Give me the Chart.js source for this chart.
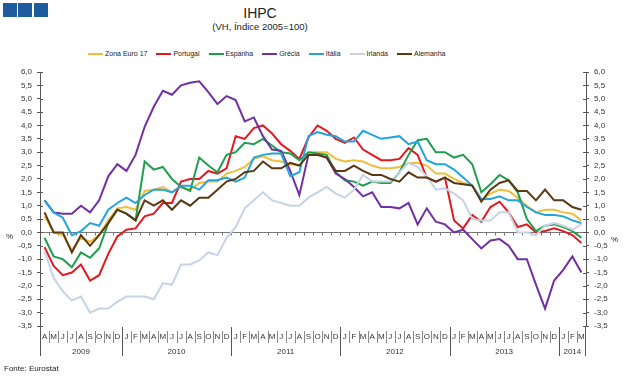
<!DOCTYPE html>
<html><head><meta charset="utf-8">
<script src="https://cdn.jsdelivr.net/npm/chart.js@4.4.0/dist/chart.umd.min.js"></script>
<style>
html,body{margin:0;padding:0;background:#fff;}
#wrap{position:relative;width:624px;height:379px;overflow:hidden;font-family:"Liberation Sans",Arial,sans-serif;color:#222;}
canvas{position:absolute;left:0;top:0;}
.logo{position:absolute;top:3px;width:14px;height:14px;background:#1F5C9E;}
#title{position:absolute;left:160px;width:200px;top:5px;text-align:center;font-size:14px;line-height:16px;}
#sub{position:absolute;left:160px;width:200px;top:21px;text-align:center;font-size:9.5px;line-height:12px;}
#legend{position:absolute;left:88px;top:49px;display:flex;font-size:7px;line-height:10px;white-space:nowrap;}
.li{display:flex;align-items:center;margin-right:9px;}
.sw{width:15px;height:2.5px;margin-right:2px;}
.pct{position:absolute;font-size:8px;}
#src{position:absolute;left:4px;top:364px;font-size:8px;}
</style></head>
<body><div id="wrap">
<div class="logo" style="left:3px"></div><div class="logo" style="left:18px"></div><div class="logo" style="left:34px"></div>
<div id="title">IHPC</div>
<div id="sub">(VH, Índice 2005=100)</div>
<div id="legend"></div>
<canvas id="c" width="624" height="379"></canvas>
<div class="pct" style="left:6px;top:232px">%</div>
<div class="pct" style="left:611px;top:235px">%</div>
<div id="src">Fonte: Eurostat</div>
</div>
<script>
const months = ['A','M','J','J','A','S','O','N','D',
 'J','F','M','A','M','J','J','A','S','O','N','D',
 'J','F','M','A','M','J','J','A','S','O','N','D',
 'J','F','M','A','M','J','J','A','S','O','N','D',
 'J','F','M','A','M','J','J','A','S','O','N','D',
 'J','F','M'];
const years = ['2009','2010','2011','2012','2013','2014'];
const monthsPerYear = [9,12,12,12,12,3];
const seriesNames = ['Zona Euro 17','Portugal','Espanha','Grécia','Itália','Irlanda','Alemanha'];

const zonaEuro = [0.6,0.0,-0.1,-0.65,-0.2,-0.35,-0.1,0.45,0.9,0.95,0.85,1.55,1.6,1.7,1.5,1.7,1.6,1.85,1.9,1.9,2.2,
 2.3,2.45,2.75,2.85,2.7,2.65,2.55,2.5,3.0,3.0,3.0,2.75,2.65,2.7,2.65,2.5,2.4,2.4,2.45,2.6,2.6,2.5,2.2,2.2,
 2.0,1.85,1.75,1.2,1.45,1.6,1.55,1.3,1.0,0.75,0.85,0.85,0.75,0.7,0.45];
const portugal = [-0.55,-1.25,-1.6,-1.5,-1.2,-1.8,-1.6,-0.8,-0.15,0.1,0.15,0.6,0.7,1.1,1.1,1.9,2.0,2.0,2.3,2.2,2.4,
 3.6,3.5,3.9,4.0,3.7,3.3,3.05,2.75,3.55,4.0,3.8,3.5,3.35,3.55,3.1,2.9,2.7,2.7,2.75,3.15,2.9,2.05,1.9,2.05,
 0.45,0.15,0.65,0.4,0.95,1.15,0.75,0.2,0.3,0.0,0.05,0.15,0.05,-0.1,-0.4];
const espanha = [-0.2,-0.9,-1.0,-1.3,-0.75,-0.95,-0.6,0.35,0.85,0.7,0.45,2.65,2.35,2.45,2.0,1.7,1.55,2.8,2.5,2.25,2.9,
 3.0,3.35,3.3,3.5,3.25,3.0,2.95,2.7,3.0,2.95,2.9,2.25,1.95,1.9,1.75,1.9,1.85,1.85,2.25,2.9,3.45,3.5,3.0,3.0,
 2.8,2.9,2.55,1.5,1.8,2.15,1.95,1.5,0.5,0.05,0.25,0.3,0.2,0.05,-0.2];
const grecia = [1.2,0.75,0.7,0.7,1.0,0.75,1.2,2.1,2.55,2.3,2.9,3.95,4.7,5.3,5.15,5.5,5.6,5.65,5.25,4.8,5.1,
 4.95,4.15,4.3,3.6,3.1,3.05,2.3,1.4,2.9,2.9,2.8,2.2,2.0,1.7,1.35,1.5,0.95,0.95,0.9,1.1,0.3,0.9,0.4,0.3,
 0.0,0.1,-0.25,-0.6,-0.3,-0.25,-0.5,-1.0,-1.0,-1.95,-2.85,-1.8,-1.4,-0.9,-1.5];
const italia = [1.2,0.75,0.55,-0.1,0.05,0.35,0.25,0.85,1.1,1.3,1.1,1.4,1.6,1.6,1.5,1.75,1.75,1.6,1.95,1.95,2.05,
 1.9,2.05,2.8,2.9,2.95,2.95,2.1,2.25,3.6,3.75,3.65,3.6,3.4,3.4,3.8,3.65,3.5,3.55,3.6,3.3,3.4,2.7,2.55,2.55,
 2.35,2.05,1.75,1.25,1.25,1.35,1.2,1.2,0.95,0.75,0.65,0.65,0.6,0.45,0.35];
const irlanda = [-0.7,-1.7,-2.2,-2.55,-2.4,-3.0,-2.85,-2.85,-2.6,-2.4,-2.4,-2.4,-2.5,-1.9,-1.95,-1.2,-1.2,-1.05,-0.75,-0.85,-0.2,
 0.2,0.9,1.2,1.5,1.2,1.1,1.0,1.0,1.3,1.5,1.7,1.45,1.3,1.6,2.15,1.9,1.9,1.9,2.25,2.6,2.45,2.1,1.6,1.65,
 1.45,1.2,0.5,0.45,0.45,0.75,0.75,0.0,0.0,-0.1,0.25,0.35,0.25,0.1,0.3];
const alemanha = [0.75,0.0,0.0,-0.75,-0.1,-0.5,-0.1,0.35,0.85,0.7,0.45,1.2,1.0,1.2,0.85,1.2,1.0,1.3,1.3,1.6,1.9,
 2.0,2.25,2.3,2.65,2.4,2.4,2.6,2.5,2.9,2.9,2.8,2.3,2.3,2.5,2.3,2.15,2.15,2.0,1.9,2.25,2.05,2.05,1.9,2.05,
 1.85,1.8,1.75,1.15,1.6,1.85,1.95,1.55,1.55,1.2,1.6,1.2,1.2,0.95,0.85];

const seriesData = [zonaEuro, portugal, espanha, grecia, italia, irlanda, alemanha];
const colors = ['#EFBE3A','#E3191F','#1F9E4E','#7030A0','#22A5DE','#C6D3E6','#5A3812'];
const FONT = '"Liberation Sans", Arial, sans-serif';

// legend
const lg = document.getElementById('legend');
seriesNames.forEach((n,i)=>{
  const d=document.createElement('div'); d.className='li';
  d.innerHTML='<span class="sw" style="background:'+colors[i]+'"></span><span>'+n+'</span>';
  lg.appendChild(d);
});

const fmt = v => { const r = Math.round(v*10)/10; return r.toFixed(1).replace('.',','); };

const decor = {
  id:'decor',
  beforeDatasetsDraw(chart){
    const {ctx, chartArea:ca, scales:{x, y}} = chart;
    const y0 = Math.round(y.getPixelForValue(0))+0.5;
    const w = ca.width / months.length;
    ctx.save();
    ctx.strokeStyle='#777'; ctx.lineWidth=1;
    ctx.beginPath(); ctx.moveTo(ca.left, y0); ctx.lineTo(ca.right, y0);
    for(let k=1;k<months.length;k++){
      const bx = Math.round(ca.left + k*w)+0.5;
      ctx.moveTo(bx, y0); ctx.lineTo(bx, y0+3);
    }
    ctx.stroke();
    ctx.restore();
  },
  afterDraw(chart){
    const {ctx, chartArea:ca, scales:{x, y}} = chart;
    const w = ca.width / months.length;
    ctx.save();
    ctx.strokeStyle='#555'; ctx.lineWidth=1;
    ctx.beginPath();
    y.ticks.forEach(t=>{
      const py = Math.round(y.getPixelForValue(t.value))+0.5;
      ctx.moveTo(ca.left, py); ctx.lineTo(ca.left+3, py);
      ctx.moveTo(ca.right-3, py); ctx.lineTo(ca.right, py);
    });
    const lx = Math.round(ca.left)+0.5, rx = Math.round(ca.right)-0.5;
    ctx.moveTo(lx, ca.bottom); ctx.lineTo(lx, 356);
    ctx.moveTo(rx, ca.bottom); ctx.lineTo(rx, 356);
    ctx.stroke();
    let idx = 0; const yearStarts = [];
    monthsPerYear.forEach(c=>{ yearStarts.push(idx); idx+=c; });
    ctx.beginPath(); ctx.strokeStyle='#888';
    for(let k=1;k<months.length;k++){
      if(yearStarts.includes(k)) continue;
      const bx = Math.round(ca.left + k*w)+0.5;
      ctx.moveTo(bx, 331); ctx.lineTo(bx, 343);
    }
    ctx.stroke();
    ctx.beginPath(); ctx.strokeStyle='#555';
    yearStarts.forEach(k=>{ if(k===0) return;
      const bx = Math.round(ca.left + k*w)+0.5;
      ctx.moveTo(bx, 327); ctx.lineTo(bx, 356);
    });
    ctx.stroke();
    ctx.fillStyle='#333'; ctx.font='8px '+FONT; ctx.textAlign='center'; ctx.textBaseline='middle';
    years.forEach((yr,j)=>{
      const a = yearStarts[j], b = a+monthsPerYear[j]-1;
      const cx = (x.getPixelForValue(a)+x.getPixelForValue(b))/2;
      ctx.fillText(yr, cx, 352);
    });
    ctx.restore();
  }
};

const yAxis = (pos, width) => ({
  position: pos, min:-3.5, max:6,
  ticks:{stepSize:0.5, callback:fmt, font:{size:8, family:FONT}, color:'#333', padding:5},
  grid:{drawOnChartArea:false, tickLength:3, color:'#555'},
  border:{color:'#555'},
  afterFit(s){ s.width = width; }
});

new Chart(document.getElementById('c'), {
  type:'line',
  data:{
    labels: months,
    datasets: seriesData.map((d,i)=>({
      label: seriesNames[i], data: d, borderColor: colors[i], backgroundColor: colors[i],
      borderWidth: 2, pointRadius: 0, tension: 0, fill:false, order: seriesData.length-1-i, yAxisID:'y'
    }))
  },
  options:{
    responsive:false, animation:false, devicePixelRatio:1,
    layout:{padding:{top:72, left:0, right:0, bottom:0}},
    plugins:{legend:{display:false}, tooltip:{enabled:false}, title:{display:false}},
    scales:{
      x:{type:'category', offset:true, grid:{display:false, drawTicks:false}, border:{display:false},
         ticks:{autoSkip:false, maxRotation:0, minRotation:0, font:{size:8, family:FONT}, color:'#333', padding:6},
         afterFit(s){ s.height = 53; }},
      y: yAxis('left', 40),
      y2: Object.assign(yAxis('right', 38), {afterDataLimits(s){ s.min=-3.5; s.max=6; }})
    }
  },
  plugins:[decor]
});
</script>
</body></html>
